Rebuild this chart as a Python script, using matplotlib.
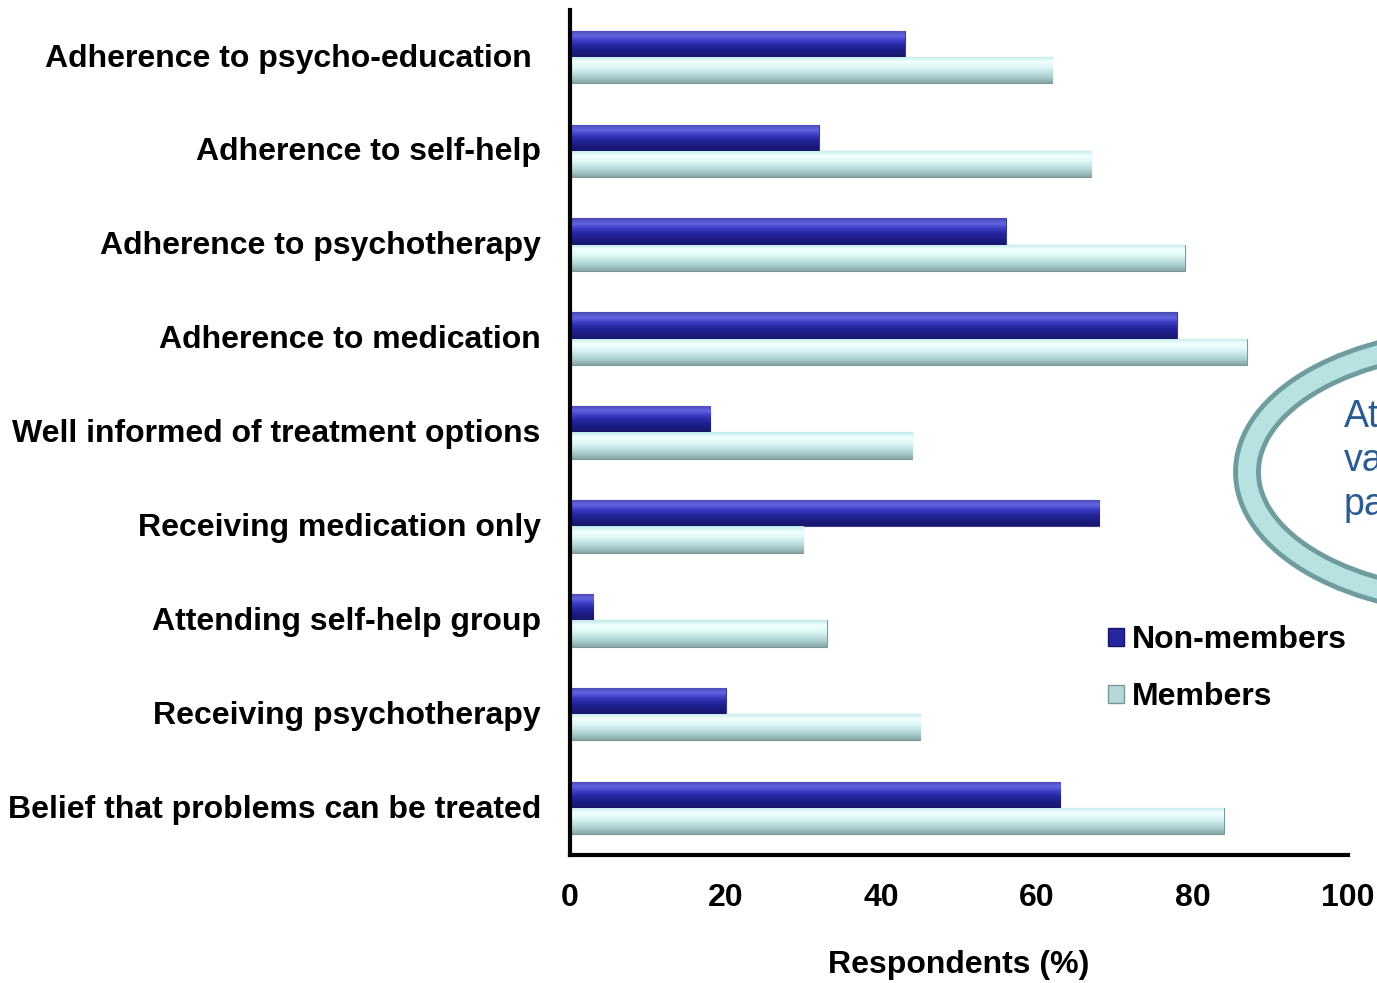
import numpy as np
import matplotlib
matplotlib.use("Agg")
import matplotlib.pyplot as plt
from matplotlib.colors import LinearSegmentedColormap
from matplotlib.patches import Ellipse, Patch

categories = ["Adherence to psycho-education ", "Adherence to self-help",
              "Adherence to psychotherapy", "Adherence to medication",
              "Well informed of treatment options", "Receiving medication only",
              "Attending self-help group", "Receiving psychotherapy",
              "Belief that problems can be treated"]
non_members = [43, 32, 56, 78, 18, 68, 3, 20, 63]
members = [62, 67, 79, 87, 44, 30, 33, 45, 84]
xticks = [0, 20, 40, 60, 80, 100]

plt.rcParams['font.family'] = ['Liberation Sans', 'DejaVu Sans']

fig = plt.figure(figsize=(13.77, 9.83), dpi=100)
ax = fig.add_axes([570/1377, 1-855/983, 778/1377, 845/983])

# cylinder-like shading, top to bottom
navy = LinearSegmentedColormap.from_list("navy", ["#4848b0", "#6464e2", "#3a3ac0",
                                                  "#24249c", "#1c1c82", "#17176c"])
teal = LinearSegmentedColormap.from_list("teal", ["#c0e8e8", "#f2ffff", "#e0f8f8",
                                                  "#c4e4e4", "#a8cccc", "#86a4a4"])
grad = np.linspace(0, 1, 64).reshape(-1, 1)

h = 0.28
y = np.arange(len(categories))
b1 = ax.barh(y - h/2, non_members, height=h, color="#24249c", edgecolor="#3c3c8c", linewidth=0.8)
b2 = ax.barh(y + h/2, members, height=h, color="#c4e4e4", edgecolor="#7a9898", linewidth=0.8)

for bars, cmap in [(b1, navy), (b2, teal)]:
    for r in bars:
        x0, y0 = r.get_x(), r.get_y()
        w, hh = r.get_width(), r.get_height()
        im = ax.imshow(grad, cmap=cmap, aspect='auto', interpolation='bilinear',
                       extent=(x0, x0 + w, y0 + hh, y0), zorder=2)
        im.set_clip_path(r)

ax.set_xlim(0, 100)
ax.set_ylim(len(categories) - 0.5, -0.5)
ax.set_yticks(y - 0.02)
ax.set_yticklabels(categories, fontsize=23, fontweight='bold')
ax.set_xticks(xticks)
ax.set_xticklabels([str(t) for t in xticks], fontsize=23, fontweight='bold')
ax.tick_params(axis='both', length=0)
ax.tick_params(axis='y', pad=21)
ax.tick_params(axis='x', pad=20)
ax.set_xlabel("Respondents (%)", fontsize=23, fontweight='bold', labelpad=27)
for s in ['top', 'right']:
    ax.spines[s].set_visible(False)
for s in ['left', 'bottom']:
    ax.spines[s].set_linewidth(3)

# speech bubble on the right, cut off by the edge
bubble_ax = fig.add_axes([0, 0, 1, 1], facecolor='none')
bubble_ax.set_xlim(0, 1377)
bubble_ax.set_ylim(983, 0)
bubble_ax.axis('off')
bubble_ax.add_patch(Ellipse((1482, 472), 470, 262, fill=False, edgecolor="#6f9c9e", linewidth=20))
bubble_ax.add_patch(Ellipse((1482, 472), 470, 262, fill=False, edgecolor="#b8e2e2", linewidth=13))
bubble_ax.text(1344, 461, "At\nva\npa", fontsize=27, color="#2a5b93", va='center', ha='left',
               linespacing=1.28)

leg = fig.legend([Patch(facecolor="#26269e", edgecolor="#16166a"),
                  Patch(facecolor="#b4d8d8", edgecolor="#7a9898")],
                 ["Non-members", "Members"], loc='upper left',
                 bbox_to_anchor=(1092/1377, 1-609/983), frameon=False,
                 prop={'size': 23, 'weight': 'bold'}, handlelength=0.5, handleheight=0.5,
                 handletextpad=0.25, labelspacing=0.85, borderpad=0)

fig.savefig("out.png", dpi=100)
